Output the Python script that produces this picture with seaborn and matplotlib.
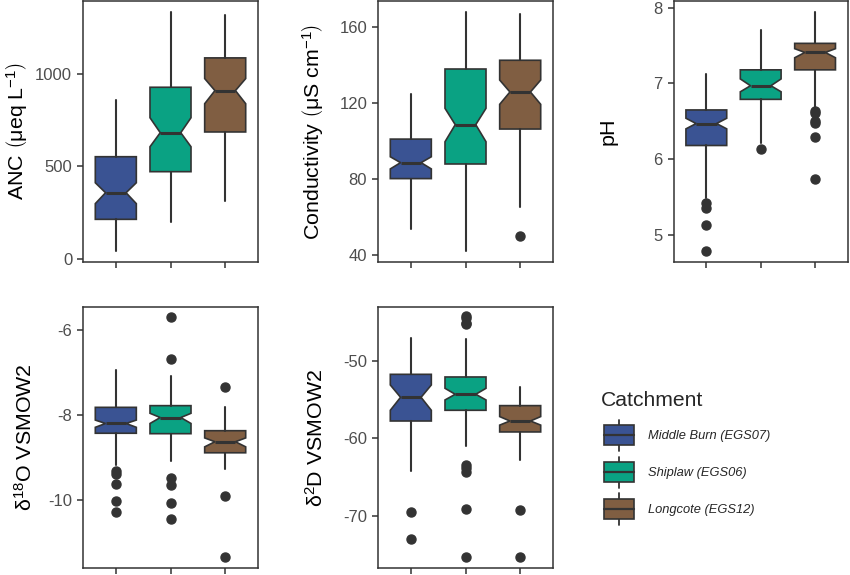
import matplotlib
matplotlib.use("Agg")
import matplotlib.pyplot as plt
import seaborn as sns
from matplotlib.legend_handler import HandlerBase
from matplotlib.patches import Rectangle, Patch
from matplotlib.lines import Line2D

# ---------------- data ----------------
catchments = ["Middle Burn (EGS07)", "Shiplaw (EGS06)", "Longcote (EGS12)"]
colors = ["#3A5393", "#0AA283", "#805E42"]

# ANC (ueq/L)
anc_lo = [43, 197, 312]
anc_q1 = [213, 471, 686]
anc_med = [357, 682, 910]
anc_q3 = [552, 928, 1087]
anc_hi = [859, 1334, 1319]
anc_cilo = [298, 606, 839]
anc_cihi = [411, 763, 975]
anc_out = [[], [], []]

# Conductivity (uS/cm)
cond_lo = [53.5, 42.3, 65.1]
cond_q1 = [80.2, 87.9, 106.3]
cond_med = [88.6, 108.6, 125.8]
cond_q3 = [101.0, 137.9, 142.5]
cond_hi = [124.7, 167.7, 166.8]
cond_cilo = [85.3, 99.6, 119.3]
cond_cihi = [91.7, 117.2, 132.1]
cond_out = [[], [], [50.0]]

# pH
ph_lo = [5.49, 6.21, 6.68]
ph_q1 = [6.18, 6.79, 7.18]
ph_med = [6.47, 6.97, 7.41]
ph_q3 = [6.65, 7.18, 7.53]
ph_hi = [7.13, 7.71, 7.94]
ph_cilo = [6.40, 6.89, 7.34]
ph_cihi = [6.54, 7.06, 7.46]
ph_out = [[5.42, 5.35, 5.13, 4.79], [6.14], [6.63, 6.61, 6.50, 6.48, 6.29, 5.74]]

# delta 18O
d18o_lo = [-9.18, -9.08, -9.27]
d18o_q1 = [-8.43, -8.44, -8.89]
d18o_med = [-8.20, -8.06, -8.63]
d18o_q3 = [-7.82, -7.78, -8.37]
d18o_hi = [-6.94, -7.08, -7.82]
d18o_cilo = [-8.29, -8.20, -8.75]
d18o_cihi = [-8.12, -7.96, -8.54]
d18o_out = [[-9.33, -9.40, -9.62, -10.02, -10.29],
            [-5.70, -6.67, -9.49, -9.66, -10.08, -10.45],
            [-7.35, -9.90, -11.34]]

# delta 2D
d2h_lo = [-64.16, -60.94, -62.83]
d2h_q1 = [-57.77, -56.39, -59.18]
d2h_med = [-54.72, -54.33, -57.77]
d2h_q3 = [-51.76, -52.10, -55.79]
d2h_hi = [-47.04, -47.25, -53.35]
d2h_cilo = [-56.39, -55.06, -58.30]
d2h_cihi = [-53.13, -53.56, -57.20]
d2h_out = [[-69.44, -72.96],
           [-44.25, -44.55, -45.10, -45.28, -63.43, -63.86, -64.38, -69.14, -75.32],
           [-69.27, -75.24]]

# ---------------- style ----------------
sns.set_theme(style="ticks")
plt.rcParams["font.family"] = ["Liberation Sans", "DejaVu Sans"]
plt.rcParams["mathtext.fontset"] = "custom"
plt.rcParams["mathtext.rm"] = "Liberation Sans"
plt.rcParams["mathtext.it"] = "Liberation Sans:italic"
plt.rcParams["mathtext.default"] = "regular"
plt.rcParams["axes.unicode_minus"] = False
palette = sns.color_palette(colors)

EDGE = "#333333"
TICKC = "#4D4D4D"

fig = plt.figure(figsize=(8.5, 5.75), dpi=100)

W = 175 / 850
H_TOP = 261 / 575
H_BOT = 261.6 / 575
lefts = [83 / 850, 378 / 850, 673.7 / 850]
bottom_top = (575 - 262) / 575
bottom_bot = (575 - 568.3) / 575

panels = [
    dict(lo=anc_lo, q1=anc_q1, med=anc_med, q3=anc_q3, hi=anc_hi, cilo=anc_cilo, cihi=anc_cihi,
         out=anc_out, ylim=(-18, 1395), yticks=[0, 500, 1000],
         label=r"ANC $\left(\mu eq\ L^{-1}\right)$", lx=-0.30,
         pos=(lefts[0], bottom_top, W, H_TOP)),
    dict(lo=cond_lo, q1=cond_q1, med=cond_med, q3=cond_q3, hi=cond_hi, cilo=cond_cilo, cihi=cond_cihi,
         out=cond_out, ylim=(36.3, 173.7), yticks=[40, 80, 120, 160],
         label=r"Conductivity $\left(\mu S\ cm^{-1}\right)$", lx=-0.295,
         pos=(lefts[1], bottom_top, W, H_TOP)),
    dict(lo=ph_lo, q1=ph_q1, med=ph_med, q3=ph_q3, hi=ph_hi, cilo=ph_cilo, cihi=ph_cihi,
         out=ph_out, ylim=(4.64, 8.09), yticks=[5, 6, 7, 8],
         label="pH", lx=-0.32, pos=(lefts[2], bottom_top, 174 / 850, H_TOP)),
    dict(lo=d18o_lo, q1=d18o_q1, med=d18o_med, q3=d18o_q3, hi=d18o_hi, cilo=d18o_cilo, cihi=d18o_cihi,
         out=d18o_out, ylim=(-11.61, -5.45), yticks=[-10, -8, -6],
         label=r"$\delta^{18}$O VSMOW2", lx=-0.267, pos=(lefts[0], bottom_bot, W, H_BOT)),
    dict(lo=d2h_lo, q1=d2h_q1, med=d2h_med, q3=d2h_q3, hi=d2h_hi, cilo=d2h_cilo, cihi=d2h_cihi,
         out=d2h_out, ylim=(-76.74, -43.05), yticks=[-70, -60, -50],
         label=r"$\delta^{2}$D VSMOW2", lx=-0.293, pos=(lefts[1], bottom_bot, W, H_BOT)),
]

for p in panels:
    ax = fig.add_axes(p["pos"])
    stats = []
    for i in range(3):
        stats.append(dict(med=p["med"][i], q1=p["q1"][i], q3=p["q3"][i],
                          whislo=p["lo"][i], whishi=p["hi"][i],
                          cilo=p["cilo"][i], cihi=p["cihi"][i],
                          fliers=p["out"][i], label=catchments[i]))
    bp = ax.bxp(stats, positions=[0, 1, 2], widths=0.75, patch_artist=True,
                shownotches=True, showcaps=False, showfliers=True,
                boxprops=dict(edgecolor=EDGE, linewidth=1.2),
                whiskerprops=dict(color=EDGE, linewidth=1.5),
                medianprops=dict(color=EDGE, linewidth=2.2, solid_capstyle="butt"),
                flierprops=dict(marker="o", markerfacecolor=EDGE, markeredgecolor=EDGE,
                                markersize=6.5, linestyle="none"))
    for patch, c in zip(bp["boxes"], palette):
        patch.set_facecolor(c)
    ax.set_xlim(-0.6, 2.6)
    ax.set_ylim(*p["ylim"])
    ax.set_yticks(p["yticks"])
    ax.set_xticks([0, 1, 2])
    ax.set_xticklabels([])
    ax.set_xlabel("")
    ax.tick_params(axis="both", direction="out", color=EDGE, width=1.1, labelcolor=TICKC,
                   labelsize=12, length=4.3)
    ax.tick_params(axis="y", pad=3.5)
    for s in ax.spines.values():
        s.set_visible(True)
        s.set_color(EDGE)
        s.set_linewidth(1.1)
    ax.set_ylabel(p["label"], fontsize=15.4, color="black")
    ax.yaxis.set_label_coords(p["lx"], 0.5)
    ax.grid(False)


class BoxHandler(HandlerBase):
    def create_artists(self, legend, orig_handle, xdescent, ydescent, width, height,
                       fontsize, trans):
        fc = orig_handle.get_facecolor()
        x0 = -xdescent + 2.0
        w = width - 2.0
        cy = -ydescent + height / 2
        cx = x0 + w / 2
        whisk = Line2D([cx, cx], [cy - 11.2, cy + 11.2], color=EDGE,
                       lw=1.3, transform=trans)
        rect = Rectangle((x0, cy - 7.2), w, 14.4, facecolor=fc,
                         edgecolor=EDGE, lw=1.2, transform=trans)
        med = Line2D([x0, x0 + w], [cy, cy], color=EDGE, lw=1.6,
                     transform=trans)
        return [whisk, rect, med]


handles = [Patch(facecolor=c, label=n) for c, n in zip(palette, catchments)]
leg = fig.legend(handles=handles, labels=catchments, title="Catchment",
                 handler_map={Patch: BoxHandler()},
                 loc="upper left", bbox_to_anchor=(601 / 850, (575 - 391) / 575),
                 frameon=False, borderpad=0, borderaxespad=0,
                 handlelength=2.55, handleheight=2.4, handletextpad=1.1,
                 labelspacing=1.05, alignment="left",
                 prop=dict(size=9.3, style="italic"),
                 title_fontproperties=dict(size=15.2))

fig.savefig("out.png", dpi=100)
